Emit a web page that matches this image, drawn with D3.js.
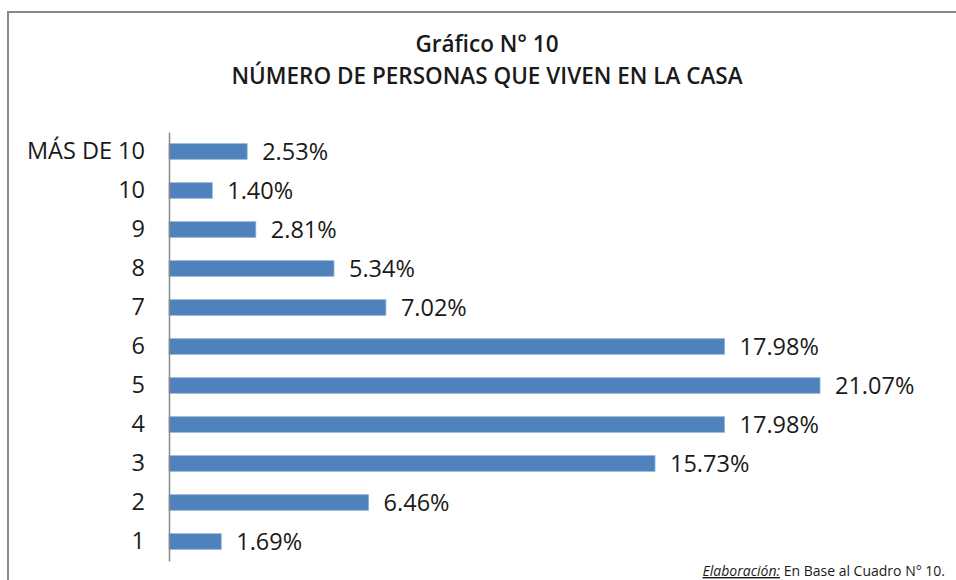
<!DOCTYPE html>
<html>
<head>
<meta charset="utf-8">
<script src="https://cdn.jsdelivr.net/npm/d3@7"></script>
<style>
  body { margin: 0; background: #fff; }
  text { font-family: "Open Sans", sans-serif; fill: #1a1a1a; }
</style>
</head>
<body>
<script>
// Gráfico N° 10 - personas que viven en la casa
var categories = ["MÁS DE 10", "10", "9", "8", "7", "6", "5", "4", "3", "2", "1"];
var values = [2.53, 1.40, 2.81, 5.34, 7.02, 17.98, 21.07, 17.98, 15.73, 6.46, 1.69];
var titleLines = ["Gráfico N° 10", "NÚMERO DE PERSONAS QUE VIVEN EN LA CASA"];

var width = 956,
    height = 580,
    plotLeft = 169,
    plotTop = 132,
    plotBottom = 561;

var svg = d3.select("body").append("svg")
    .attr("width", width)
    .attr("height", height);

// frame (runs off the right and bottom edge)
svg.append("rect")
    .attr("x", 8).attr("y", 12)
    .attr("width", 960).attr("height", 600)
    .attr("fill", "none")
    .attr("stroke", "#8a8a8a")
    .attr("stroke-width", 2);

svg.selectAll(".title")
    .data(titleLines)
  .enter().append("text")
    .attr("class", "title")
    .attr("x", 487)
    .attr("y", function(d, i) { return 52 + i * 32; })
    .attr("text-anchor", "middle")
    .style("font-size", "22.5px")
    .style("font-weight", "600")
    .text(function(d) { return d; });

var x = d3.scaleLinear()
    .domain([0, 21.07])
    .range([plotLeft, 820]);

var y = d3.scaleBand()
    .domain(categories)
    .range([plotTop, plotBottom])
    .paddingInner(0.6)
    .paddingOuter(0.3);

svg.selectAll(".bar")
    .data(values)
  .enter().append("rect")
    .attr("class", "bar")
    .attr("x", x(0))
    .attr("y", function(d, i) { return y(categories[i]); })
    .attr("width", function(d) { return x(d) - x(0); })
    .attr("height", y.bandwidth())
    .attr("fill", "#4f81bd")
    .attr("stroke", "#8fb0d8")
    .attr("stroke-width", 0.8);

svg.selectAll(".val")
    .data(values)
  .enter().append("text")
    .attr("class", "val")
    .attr("x", function(d) { return x(d) + 15; })
    .attr("y", function(d, i) { return y(categories[i]) + y.bandwidth() / 2; })
    .attr("dy", "0.36em")
    .style("font-size", "23.5px")
    .text(function(d) { return d.toFixed(2) + "%"; });

var yAxis = svg.append("g")
    .attr("transform", "translate(" + plotLeft + ",0)")
    .call(d3.axisLeft(y).tickSize(0).tickPadding(24));

yAxis.select(".domain").attr("stroke", "#8a8a8a").attr("stroke-width", 1.5);
yAxis.selectAll("text")
    .style("font-family", "'Open Sans', sans-serif")
    .style("font-size", "23.5px")
    .attr("fill", "#1a1a1a");

var note = svg.append("text")
    .attr("x", 945)
    .attr("y", 576)
    .attr("text-anchor", "end")
    .style("font-size", "14px");
note.append("tspan")
    .style("font-style", "italic")
    .style("text-decoration", "underline")
    .text("Elaboración:");
note.append("tspan").text(" En Base al Cuadro N° 10.");
</script>
</body>
</html>
